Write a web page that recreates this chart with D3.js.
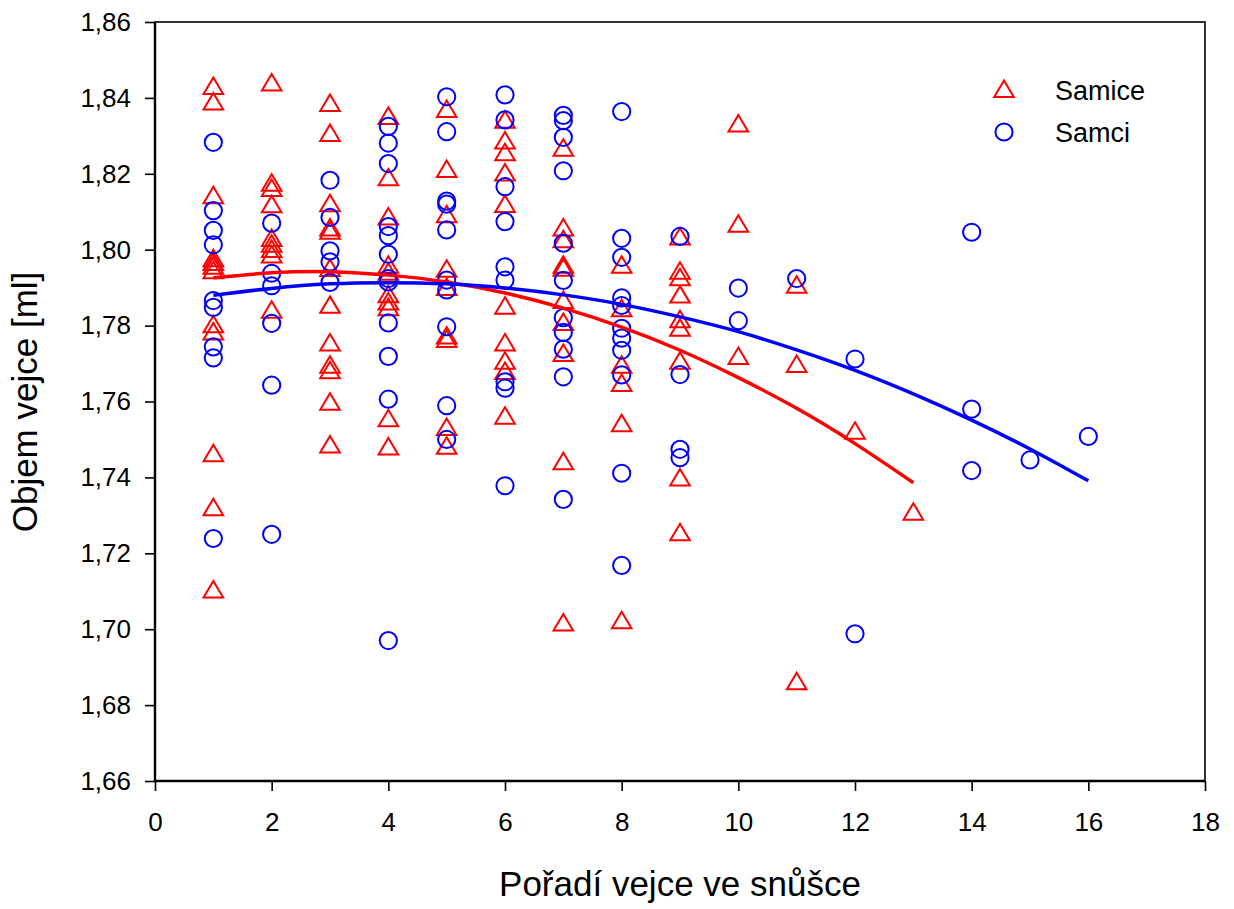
<!DOCTYPE html>
<html>
<head>
<meta charset="utf-8">
<script src="https://cdn.jsdelivr.net/npm/d3@7"></script>
<style>
  body { margin: 0; background: #fff; }
  svg text { font-family: "Liberation Sans", Arial, sans-serif; fill: #000; }
</style>
</head>
<body>
<div class="chart"></div>
<script>
//----Data----
// [pořadí vejce, objemy]
const samice = [
  [1, [1.8429, 1.8388, 1.8141, 1.7975, 1.7965, 1.7955, 1.7943, 1.7801, 1.7782, 1.7461, 1.7319, 1.7102]],
  [2, [1.8438, 1.8174, 1.8160, 1.8117, 1.8028, 1.8013, 1.7999, 1.7985, 1.7839]],
  [3, [1.8384, 1.8305, 1.8120, 1.8056, 1.8047, 1.7949, 1.7852, 1.7753, 1.7694, 1.7680, 1.7597, 1.7484]],
  [4, [1.8350, 1.8188, 1.8085, 1.7958, 1.7939, 1.7880, 1.7861, 1.7846, 1.7553, 1.7479]],
  [5, [1.8368, 1.8210, 1.8091, 1.7947, 1.7899, 1.7771, 1.7762, 1.7530, 1.7481]],
  [6, [1.8340, 1.8285, 1.8254, 1.8201, 1.8118, 1.7850, 1.7753, 1.7705, 1.7678, 1.7560]],
  [7, [1.8266, 1.8056, 1.8025, 1.7958, 1.7950, 1.7865, 1.7807, 1.7725, 1.7440, 1.7015]],
  [8, [1.7958, 1.7843, 1.7694, 1.7646, 1.7540, 1.7021]],
  [9, [1.8032, 1.7942, 1.7925, 1.7879, 1.7814, 1.7792, 1.7705, 1.7397, 1.7253]],
  [10, [1.8330, 1.8066, 1.7717]],
  [11, [1.7905, 1.7696, 1.6860]],
  [12, [1.7520]],
  [13, [1.7307]]
]

const samci = [
  [1, [1.8283, 1.8103, 1.8051, 1.8013, 1.7866, 1.7848, 1.7744, 1.7715, 1.7239]],
  [2, [1.8070, 1.7938, 1.7905, 1.7806, 1.7643, 1.7250]],
  [3, [1.8183, 1.8085, 1.7997, 1.7968, 1.7914]],
  [4, [1.8325, 1.8281, 1.8227, 1.8061, 1.8037, 1.7988, 1.7924, 1.7915, 1.7807, 1.7719, 1.7606, 1.6970]],
  [5, [1.8403, 1.8311, 1.8128, 1.8120, 1.8052, 1.7920, 1.7894, 1.7797, 1.7589, 1.7500]],
  [6, [1.8408, 1.8342, 1.8166, 1.8074, 1.7955, 1.7920, 1.7652, 1.7635, 1.7378]],
  [7, [1.8354, 1.8340, 1.8296, 1.8208, 1.8017, 1.7919, 1.7821, 1.7782, 1.7738, 1.7665, 1.7342]],
  [8, [1.8364, 1.8030, 1.7980, 1.7873, 1.7853, 1.7793, 1.7767, 1.7735, 1.7670, 1.7411, 1.7168]],
  [9, [1.8035, 1.7671, 1.7474, 1.7452]],
  [10, [1.7899, 1.7813]],
  [11, [1.7924]],
  [12, [1.7712, 1.6988]],
  [14, [1.8046, 1.7580, 1.7418]],
  [15, [1.7446]],
  [16, [1.7508]]
]

// regression curves, sampled at each order
const fitSamiceX = [1, 2, 3, 4, 5, 6, 7, 8, 9, 10, 11, 12, 13]
const fitSamiceY = [1.7926, 1.7939, 1.7942, 1.7933, 1.7915, 1.7886, 1.7846, 1.7796, 1.7735, 1.7663, 1.7582, 1.7489, 1.7386]
const fitSamciX = [1, 2, 3, 4, 5, 6, 7, 8, 9, 10, 11, 12, 13, 14, 15, 16]
const fitSamciY = [1.7880, 1.7898, 1.7910, 1.7913, 1.7910, 1.7899, 1.7881, 1.7856, 1.7823, 1.7784, 1.7736, 1.7682, 1.7620, 1.7551, 1.7475, 1.7391]

const xTicks = [0, 2, 4, 6, 8, 10, 12, 14, 16, 18]
const yTicks = [1.66, 1.68, 1.70, 1.72, 1.74, 1.76, 1.78, 1.80, 1.82, 1.84, 1.86]

const legendLabels = ["Samice", "Samci"]

//----Chart Initialization----
const W = 1234, H = 909
const margin = ({top: 22, right: 29, bottom: 128, left: 155})
const width = W - margin.left - margin.right,
  height = H - margin.top - margin.bottom

const svg = d3.select(".chart").append("svg")
  .attr("width", W)
  .attr("height", H)
  .append("g")
  .attr("transform", "translate(" + margin.left + "," + margin.top + ")")

const xScale = d3.scaleLinear().domain([0, 18]).range([0, width])
const yScale = d3.scaleLinear().domain([1.66, 1.86]).range([height, 0])

const xAxis = d3.axisBottom(xScale)
  .tickValues(xTicks)
  .tickSize(10)
  .tickPadding(22)

const yAxis = d3.axisLeft(yScale)
  .tickValues(yTicks)
  .tickSize(10)
  .tickPadding(14)
  .tickFormat(d => d.toFixed(2).replace(".", ","))

svg.append("g")
  .attr("class", "axis x-axis")
  .attr("transform", `translate(0, ${height})`)
  .call(xAxis)

svg.append("g")
  .attr("class", "axis y-axis")
  .call(yAxis)

svg.selectAll(".axis .domain").remove()
svg.selectAll(".axis line").attr("stroke", "#000").attr("stroke-width", 1.6)
svg.selectAll(".axis text").style("font-size", "26px").attr("fill", "#000")

// frame
svg.append("rect")
  .attr("width", width)
  .attr("height", height)
  .attr("fill", "none")
  .attr("stroke", "#000")
  .attr("stroke-width", 1.6)
svg.append("path")
  .attr("d", `M0,0V${height}H${width}`)
  .attr("fill", "none")
  .attr("stroke", "#000")
  .attr("stroke-width", 2.4)

// axis titles
svg.append("text")
  .attr("text-anchor", "middle")
  .attr("x", width / 2)
  .attr("y", height + 115)
  .style("font-size", "35px")
  .text("Pořadí vejce ve snůšce")

svg.append("text")
  .attr("text-anchor", "middle")
  .attr("transform", `translate(${37 - margin.left}, ${380}) rotate(-90)`)
  .style("font-size", "35px")
  .text("Objem vejce [ml]")

//----Points----
const flat = series => series.flatMap(([x, vals]) => vals.map(v => ({x: x, v: v})))

const triPath = "M0,-9.5L9.8,7L-9.8,7Z"

svg.selectAll(".tri")
  .data(flat(samice))
  .enter().append("path")
  .attr("class", "tri")
  .attr("d", triPath)
  .attr("transform", d => `translate(${xScale(d.x)},${yScale(d.v)})`)
  .attr("fill", "none")
  .attr("stroke", "#ff0000")
  .attr("stroke-width", 2)

svg.selectAll(".circ")
  .data(flat(samci))
  .enter().append("circle")
  .attr("class", "circ")
  .attr("cx", d => xScale(d.x))
  .attr("cy", d => yScale(d.v))
  .attr("r", 8.6)
  .attr("fill", "none")
  .attr("stroke", "#0000ff")
  .attr("stroke-width", 2)

//----Regression lines----
const line = d3.line()
  .x(d => xScale(d[0]))
  .y(d => yScale(d[1]))
  .curve(d3.curveNatural)

svg.append("path")
  .datum(d3.zip(fitSamiceX, fitSamiceY))
  .attr("d", line)
  .attr("fill", "none")
  .attr("stroke", "#ff0000")
  .attr("stroke-width", 3.5)

svg.append("path")
  .datum(d3.zip(fitSamciX, fitSamciY))
  .attr("d", line)
  .attr("fill", "none")
  .attr("stroke", "#0000ff")
  .attr("stroke-width", 3.5)

//----Legend----
const lg = svg.append("g").attr("transform", `translate(${1004 - margin.left}, ${90 - margin.top})`)

lg.append("path")
  .attr("d", triPath)
  .attr("fill", "none")
  .attr("stroke", "#ff0000")
  .attr("stroke-width", 2)

lg.append("circle")
  .attr("cy", 42)
  .attr("r", 8.6)
  .attr("fill", "none")
  .attr("stroke", "#0000ff")
  .attr("stroke-width", 2)

lg.selectAll(".lab")
  .data(legendLabels)
  .enter().append("text")
  .attr("x", 51)
  .attr("y", (d, i) => 10 + i * 42)
  .style("font-size", "27px")
  .text(d => d)
</script>
</body>
</html>
